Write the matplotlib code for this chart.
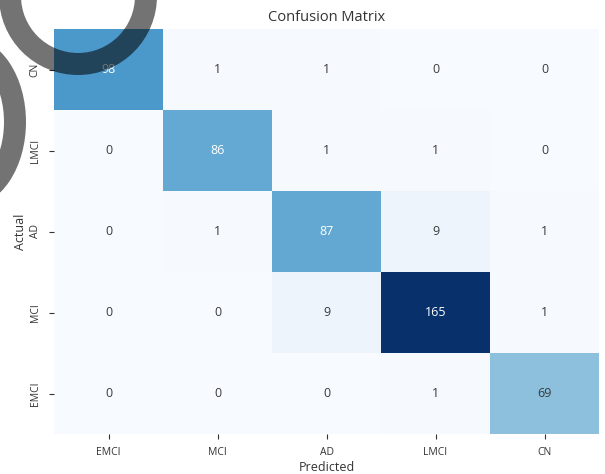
import numpy as np
import matplotlib
matplotlib.use("Agg")
import matplotlib.pyplot as plt
from matplotlib.patches import Circle, Ellipse

plt.rcParams["font.family"] = ["Open Sans", "DejaVu Sans"]

# Confusion matrix values (rows = actual, cols = predicted)
actual_labels = ["CN", "LMCI", "AD", "MCI", "EMCI"]
predicted_labels = ["EMCI", "MCI", "AD", "LMCI", "CN"]
cm = np.array([
    [98, 1, 1, 0, 0],
    [0, 86, 1, 1, 0],
    [0, 1, 87, 9, 1],
    [0, 0, 9, 165, 1],
    [0, 0, 0, 1, 69],
])


def rel_lum(rgb):
    c = np.asarray(rgb[:3])
    c = np.where(c <= 0.03928, c / 12.92, ((c + 0.055) / 1.055) ** 2.4)
    return 0.2126 * c[0] + 0.7152 * c[1] + 0.0722 * c[2]


fig = plt.figure(figsize=(6.05, 4.74), dpi=100)
ax = fig.add_axes([54 / 605, 1 - 434 / 474, 545 / 605, 405 / 474])

cmap = plt.get_cmap("Blues")
vmax = cm.max()
ax.pcolormesh(cm, cmap=cmap, vmin=0, vmax=vmax)
ax.set_xlim(0, cm.shape[1])
ax.set_ylim(cm.shape[0], 0)

for i in range(cm.shape[0]):
    for j in range(cm.shape[1]):
        lum = rel_lum(cmap(cm[i, j] / vmax))
        color = "white" if lum < 0.408 else "#3a3a3a"
        ax.text(j + 0.5, i + 0.5, str(cm[i, j]), ha="center", va="center",
                fontsize=9, color=color)

ax.set_xticks(np.arange(len(predicted_labels)) + 0.5)
ax.set_xticklabels(predicted_labels, fontsize=7.5)
ax.set_yticks(np.arange(len(actual_labels)) + 0.5)
ax.set_yticklabels(actual_labels, fontsize=7.5, rotation=90, va="center")
ax.tick_params(length=3.5, width=0.8, colors="#333333", pad=6)
for s in ax.spines.values():
    s.set_visible(False)

ax.set_xlabel("Predicted", fontsize=9, color="#333333", labelpad=2)
ax.set_ylabel("Actual", fontsize=9, color="#333333", labelpad=2)
ax.set_title("Confusion Matrix", fontsize=10.5, color="#333333", pad=6)

# semi-transparent rings drawn over the top-left of the image
over = fig.add_axes([0, 0, 1, 1], facecolor="none")
over.set_xlim(0, 605)
over.set_ylim(474, 0)
over.axis("off")
px = 72 / 100
over.add_patch(Circle((78, -4), 68, fill=False, lw=22 * px,
                      edgecolor="black", alpha=0.55))
over.add_patch(Ellipse((-35, 122), 100, 150, fill=False, lw=22 * px,
                       edgecolor="black", alpha=0.55))

fig.savefig("out.png", dpi=100)
